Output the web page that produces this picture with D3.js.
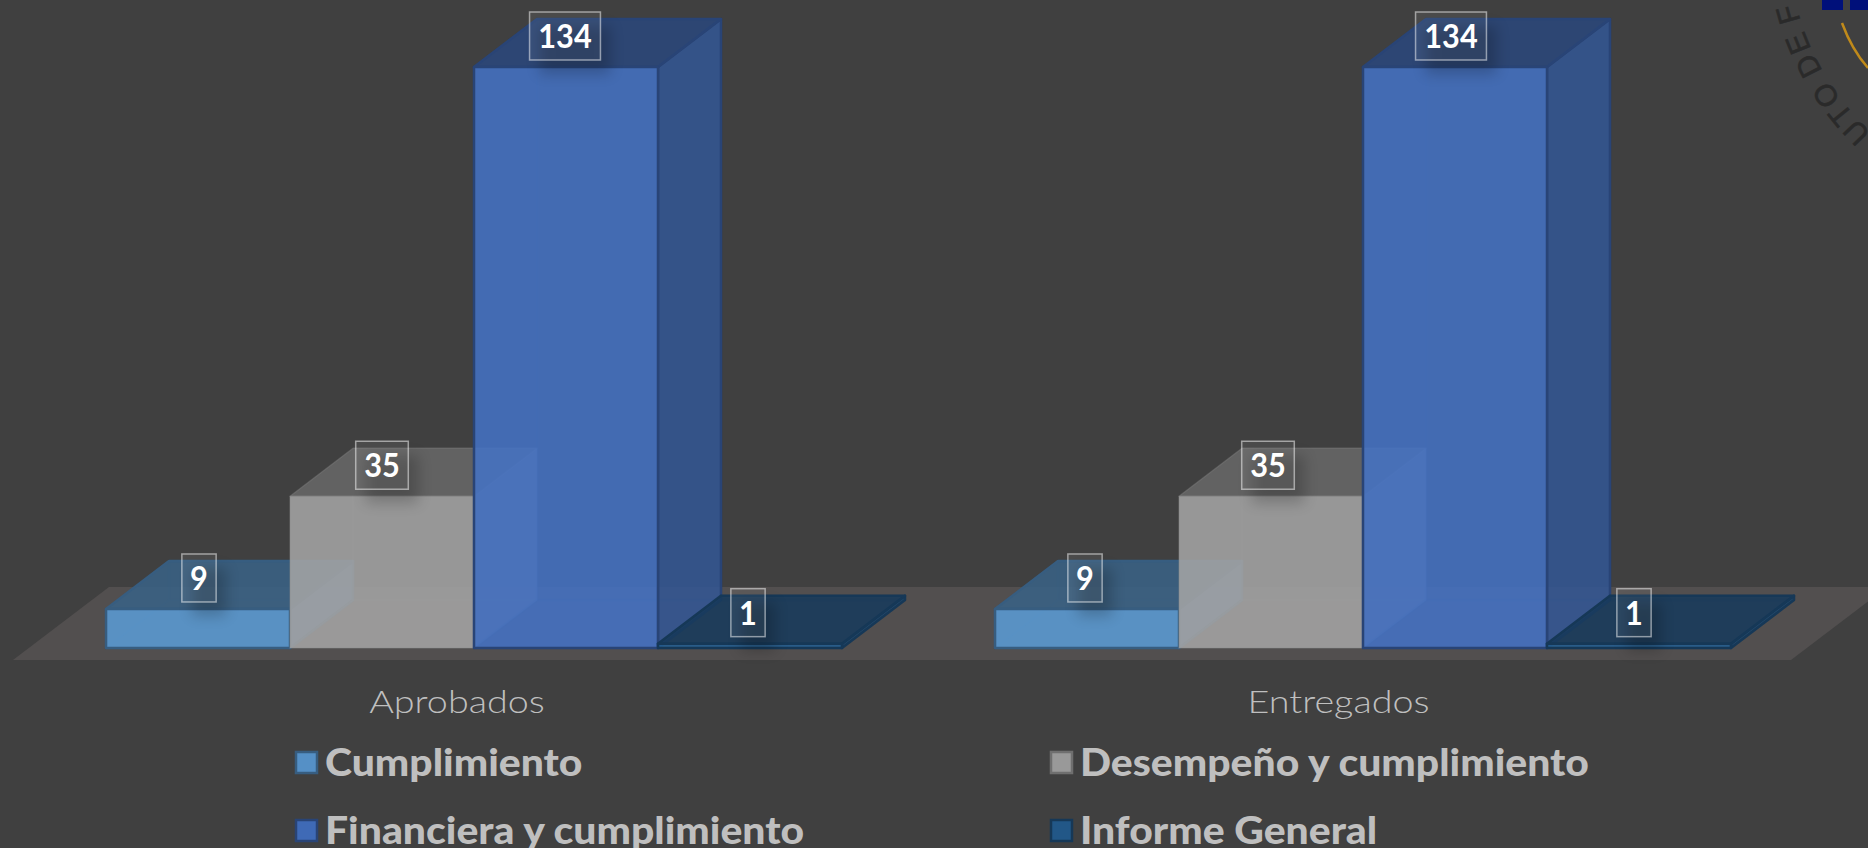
<!DOCTYPE html>
<html>
<head>
<meta charset="utf-8">
<script src="https://cdn.jsdelivr.net/npm/d3@7"></script>
<style>
  html, body { margin: 0; padding: 0; background: #404040; overflow: hidden; }
  text { font-family: Lato, "Open Sans", sans-serif; }
</style>
</head>
<body>
<div id="chart"></div>
<script>
// data
const categories = ["Aprobados", "Entregados"];
const series = ["Cumplimiento", "Desempeño y cumplimiento", "Financiera y cumplimiento", "Informe General"];
const aprobados = [9, 35, 134, 1];
const entregados = [9, 35, 134, 1];
const colors = ["#5B9BD5", "#A5A5A5", "#4472C4", "#255E91"];

const values = { Aprobados: aprobados, Entregados: entregados };

const width = 1868;
const height = 848;
const depthX = 63;
const depthY = 48;

const svg = d3.select("#chart").append("svg")
  .attr("width", width)
  .attr("height", height)
  .style("display", "block");

const defs = svg.append("defs");
defs.append("filter").attr("id", "soft")
  .attr("x", "-50%").attr("y", "-50%").attr("width", "200%").attr("height", "200%")
  .append("feGaussianBlur").attr("stdDeviation", 7);

svg.append("rect").attr("width", width).attr("height", height).attr("fill", "#404040");

// scales
const x0 = d3.scaleBand().domain(categories).range([29.5, 1807.5]);
const x1 = d3.scaleBand().domain(series).range([0, x0.bandwidth()]).paddingOuter(0.416);
const y = d3.scaleLinear().domain([0, 134]).range([648, 67]);
const labelX = d3.scalePoint().domain(categories).range([457, 1338.5]);
// value labels do not sit exactly over the bars in the original
const valueGroupX = d3.scalePoint().domain(categories).range([199, 1085]);
const valueSeriesX = d3.scalePoint().domain(series).range([0, 549]);

// floor
svg.append("polygon")
  .attr("points", [[13, 660], [1791, 660], [1887, 587], [109, 587]].join(" "))
  .attr("fill", "#524F4F");

function shade(c, f) {
  const r = d3.rgb(c);
  return d3.rgb(r.r * f, r.g * f, r.b * f).formatHex();
}

// a box = hidden faces first, then the 3 visible ones
function faces(left, right, top, base) {
  const dx = depthX, dy = depthY;
  return [
    { f: 0.9, o: 0.12, p: [[left + dx, top - dy], [right + dx, top - dy], [right + dx, base - dy], [left + dx, base - dy]] },
    { f: 1, o: 0.12, p: [[left, base], [right, base], [right + dx, base - dy], [left + dx, base - dy]] },
    { f: 1, o: 0.12, p: [[left, top], [left + dx, top - dy], [left + dx, base - dy], [left, base]] },
    { f: 0.75, o: 0.85, p: [[right, top], [right + dx, top - dy], [right + dx, base - dy], [right, base]] },
    { f: 0.62, o: 0.85, p: [[left, top], [right, top], [right + dx, top - dy], [left + dx, top - dy]] },
    { f: 1, o: 0.85, p: [[left, top], [right, top], [right, base], [left, base]] }
  ];
}

const labels = [];

categories.forEach(cat => {
  const g = svg.append("g").attr("transform", `translate(${x0(cat)},0)`);
  series.forEach((s, i) => {
    const v = values[cat][i];
    const left = x1(s);
    const right = left + x1.bandwidth();
    g.append("g").selectAll("polygon")
      .data(faces(left, right, y(v), y(0)))
      .join("polygon")
      .attr("points", d => d.p.join(" "))
      .attr("fill", d => shade(colors[i], d.f))
      .attr("fill-opacity", d => d.o)
      .attr("stroke", i == 1 ? "#8a8a8a" : shade(colors[i], 0.6))
      .attr("stroke-opacity", d => d.o == 0.85 ? (i == 1 ? 0.3 : 1) : 0.1)
      .attr("stroke-width", i == 1 ? 1.5 : 2.5)
      .attr("stroke-linejoin", "round");
    labels.push({ x: valueGroupX(cat) + valueSeriesX(s), y: y(v) - 31, v: v });
  });
});

// value labels on top of every bar
const lab = svg.selectAll(".lab").data(labels).join("g")
  .attr("class", "lab")
  .attr("transform", d => `translate(${d.x},${d.y})`);

lab.each(function(d) {
  const g = d3.select(this);
  const w = String(d.v).length * 18.3 + 16;
  g.append("rect").attr("x", -w / 2 + 10).attr("y", -24 + 14).attr("width", w).attr("height", 48)
    .attr("fill", "#000").attr("opacity", 0.2).attr("filter", "url(#soft)");
  g.append("rect").attr("x", -w / 2).attr("y", -24).attr("width", w).attr("height", 48)
    .attr("fill", "#fff").attr("fill-opacity", 0.06)
    .attr("stroke", "#fff").attr("stroke-opacity", 0.5).attr("stroke-width", 1.5);
  g.append("text").attr("text-anchor", "middle")
    .attr("transform", "translate(0,12) scale(0.93,1)")
    .attr("font-size", 33).attr("font-weight", 700).attr("fill", "#fff")
    .text(d.v);
});

// category labels
svg.selectAll(".cat").data(categories).join("text")
  .attr("class", "cat")
  .attr("transform", d => `translate(${labelX(d)},713) scale(1.18,1)`)
  .attr("text-anchor", "middle")
  .attr("font-size", 32)
  .attr("font-weight", 300)
  .attr("fill", "#BFBFBF")
  .text(d => d);

// legend
const legendX = d3.scaleOrdinal().domain([0, 1]).range([295, 1050]);
const legendY = d3.scaleOrdinal().domain([0, 1]).range([752, 820]);
const leg = svg.selectAll(".leg").data(series).join("g")
  .attr("class", "leg")
  .attr("transform", (d, i) => `translate(${legendX(i % 2)},${legendY(Math.floor(i / 2))})`);
leg.append("rect").attr("x", 1).attr("y", 0).attr("width", 21).attr("height", 21)
  .attr("fill", (d, i) => shade(colors[i], 0.93))
  .attr("stroke", (d, i) => i == 1 ? "#6f6f6f" : shade(colors[i], 0.6))
  .attr("stroke-width", 2.5);
leg.append("text")
  .attr("transform", "translate(30,24) scale(1.105,1)")
  .attr("font-size", 37).attr("font-weight", 900).attr("fill", "#BFBFBF")
  .text(d => d);

// piece of the seal that sits on the top right corner
const seal = svg.append("g");
seal.append("path").attr("id", "sealArc").attr("fill", "none")
  .attr("d", "M 1885 145 A 270 270 0 0 1 1790 -25");
seal.append("text").attr("font-size", 30).attr("fill", "#2a2a2a")
  .attr("letter-spacing", 3).attr("word-spacing", -4)
  .attr("stroke", "#2a2a2a").attr("stroke-width", 0.6)
  .style("font-family", "'Liberation Sans'")
  .append("textPath").attr("href", "#sealArc").attr("startOffset", 18)
  .text("UTO DE F");
seal.append("path").attr("fill", "none").attr("stroke", "#C08A1A").attr("stroke-width", 2.5)
  .attr("d", "M 1842 23 Q 1852 50 1868 68");
seal.selectAll(".sq").data([1822, 1850]).join("rect").attr("class", "sq")
  .attr("x", d => d).attr("y", 0).attr("width", 21).attr("height", 10).attr("fill", "#00107A");
</script>
</body>
</html>
